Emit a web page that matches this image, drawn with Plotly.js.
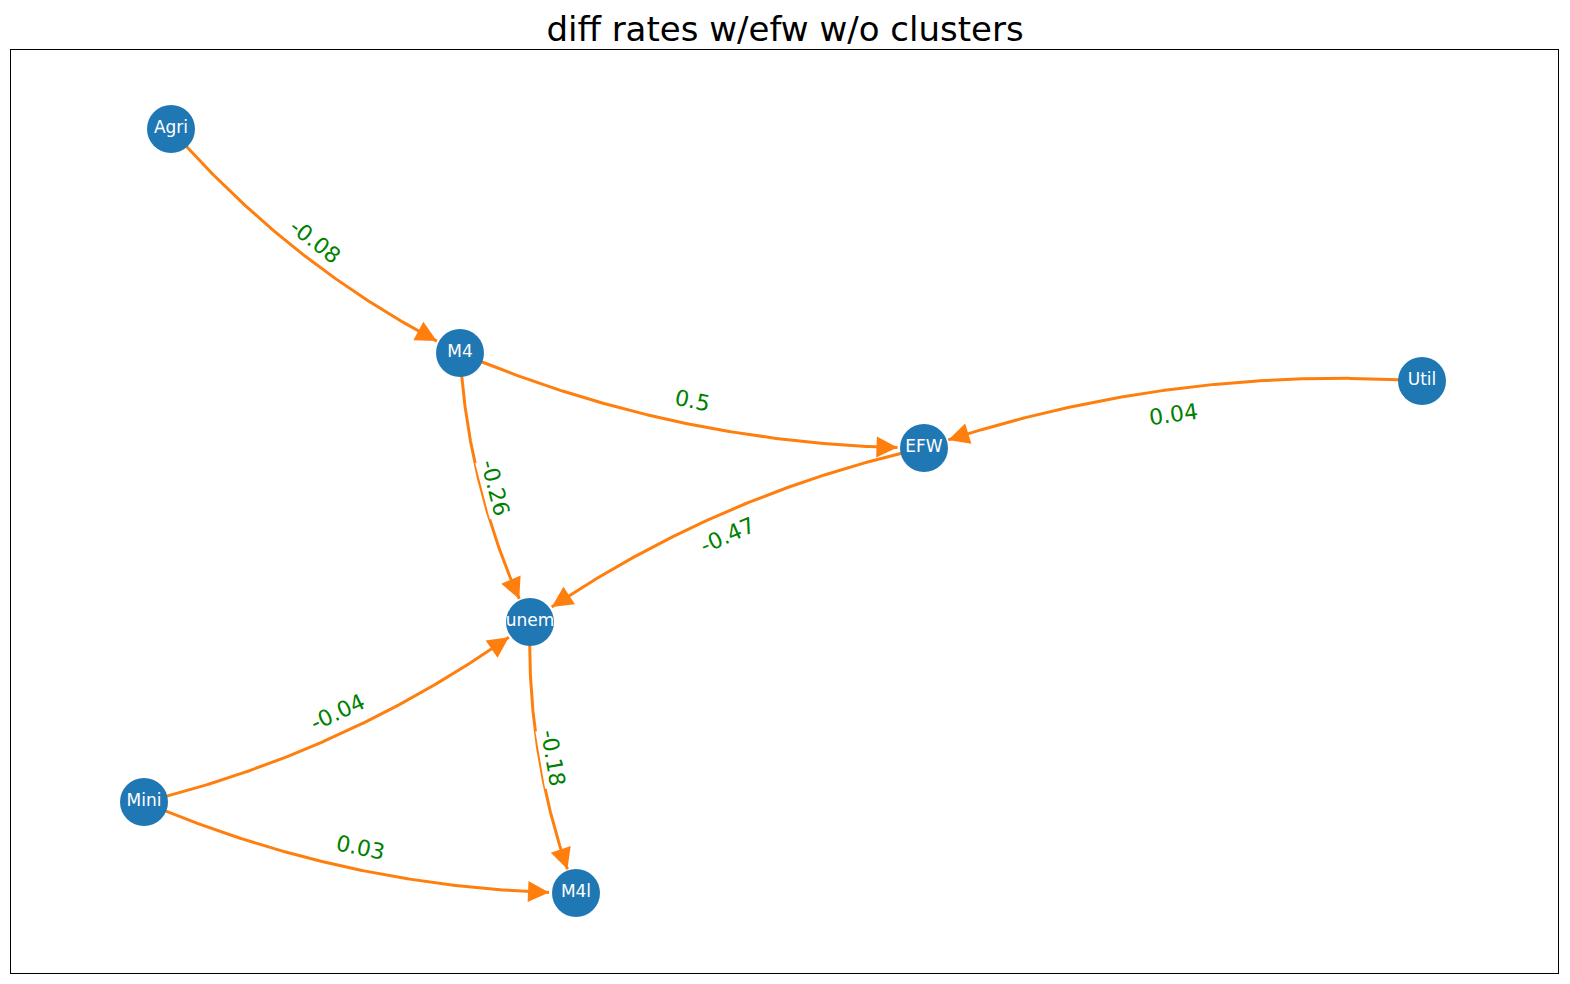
<!DOCTYPE html>
<html>
<head>
<meta charset="utf-8">
<script src="https://cdn.plot.ly/plotly-3.0.1.min.js"></script>
<style>body{margin:0;padding:0;background:#fff}</style>
</head>
<body>
<div id="graf" style="width:1570px;height:984px"></div>
<script>
// node positions (layout units, y grows downward)
let nodeNames = ['Agri', 'M4', 'EFW', 'Util', 'unem', 'Mini', 'M4l'];
let nodeX = [171, 460, 924, 1422, 530, 144, 576];
let nodeY = [129, 353, 448, 381, 622, 802, 893];

let edgeFrom = ['Agri', 'M4', 'Util', 'M4', 'EFW', 'Mini', 'unem', 'Mini'];
let edgeTo = ['M4', 'EFW', 'EFW', 'unem', 'unem', 'unem', 'M4l', 'M4l'];
let edgeRates = ['-0.08', '0.5', '0.04', '-0.26', '-0.47', '-0.04', '-0.18', '0.03'];

const orange = '#ff7f0e';
const rad = 0.1;
const nodeR = 25;

let traces = [];
let annotations = [];

function pos(name){
    let i = nodeNames.indexOf(name);
    return [nodeX[i], nodeY[i]];
}

for(let k = 0; k < edgeFrom.length; k++){
    let [x1, y1] = pos(edgeFrom[k]);
    let [x2, y2] = pos(edgeTo[k]);
    let dx = x2 - x1, dy = y2 - y1;
    let mx = (x1 + x2) / 2, my = (y1 + y2) / 2;
    let cx = mx - rad * dy, cy = my + rad * dx;
    let xs = [], ys = [];
    for(let s = 0; s <= 200; s++){
        let t = s / 200;
        let bx = (1-t)*(1-t)*x1 + 2*(1-t)*t*cx + t*t*x2;
        let by = (1-t)*(1-t)*y1 + 2*(1-t)*t*cy + t*t*y2;
        if(Math.hypot(bx - x1, by - y1) < nodeR - 4) continue;
        if(Math.hypot(bx - x2, by - y2) < nodeR) break;
        xs.push(bx); ys.push(by);
    }
    traces.push({x: xs, y: ys, mode: 'lines', type: 'scatter', hoverinfo: 'skip',
        line: {color: orange, width: 3}, showlegend: false});
    let n = xs.length;
    annotations.push({x: xs[n-1], y: ys[n-1], ax: xs[n-8], ay: ys[n-8],
        xref: 'x', yref: 'y', axref: 'x', ayref: 'y', text: '', showarrow: true,
        arrowhead: 2, arrowsize: 1.4, arrowwidth: 3, arrowcolor: orange});
    let ang = Math.atan2(dy, dx) * 180 / Math.PI;
    if(ang > 90) ang -= 180;
    if(ang < -90) ang += 180;
    annotations.push({x: mx, y: my, xref: 'x', yref: 'y', text: edgeRates[k],
        showarrow: false, textangle: ang, bgcolor: 'white', borderpad: 0,
        font: {family: 'DejaVu Sans', size: 22, color: 'green'}});
}

traces.push({x: nodeX, y: nodeY, text: nodeNames, mode: 'markers+text', type: 'scatter',
    marker: {size: 48, color: '#1f77b4'}, textposition: 'middle center',
    textfont: {family: 'DejaVu Sans', size: 17, color: 'white'}, showlegend: false, hoverinfo: 'text'});

let layout = {
    width: 1570, height: 984,
    margin: {l: 11, r: 12, t: 50, b: 11},
    title: {text: 'diff rates w/efw w/o clusters', font: {family: 'DejaVu Sans', size: 34, color: 'black'}, y: 0.97, yanchor: 'middle'},
    xaxis: {range: [11, 1558], showgrid: false, zeroline: false, showticklabels: false, ticks: '',
        showline: true, mirror: true, linecolor: 'black', linewidth: 1},
    yaxis: {range: [973, 50], showgrid: false, zeroline: false, showticklabels: false, ticks: '',
        showline: true, mirror: true, linecolor: 'black', linewidth: 1},
    annotations: annotations,
    plot_bgcolor: 'white', paper_bgcolor: 'white'
};

Plotly.newPlot('graf', traces, layout, {displayModeBar: false});
</script>
</body>
</html>
